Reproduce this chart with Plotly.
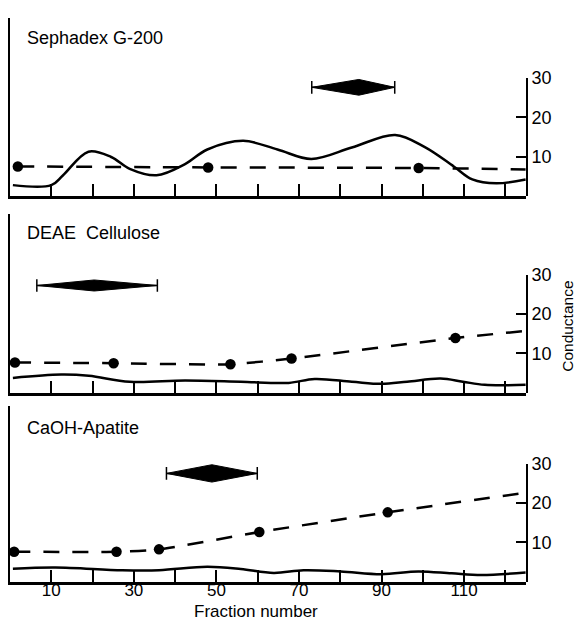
import plotly.graph_objects as go

# ---------------- data ----------------
panel_titles = ["Sephadex G-200", "DEAE  Cellulose", "CaOH-Apatite"]

# solid (protein / absorbance) curves, in conductance-scale units
abs_x1 = [0.7, 10, 12.8, 19, 24.5, 29, 35.5, 42.4, 47.8, 56.5, 64.8, 73, 82.8, 93.3, 100.5, 107.5, 112, 117.8, 124.9]
abs_y1 = [2.75, 2.75, 5.2, 11.25, 9.9, 6.9, 5.25, 8.1, 11.8, 14.0, 11.8, 9.4, 12.3, 15.5, 12.4, 7.5, 4.2, 3.2, 4.2]
abs_x2 = [0.7, 12.4, 19.1, 29, 42.4, 55.9, 67.5, 73.8, 82.8, 90, 96.2, 104.3, 109.7, 115, 124.9]
abs_y2 = [3.75, 4.6, 4.3, 2.8, 3.1, 2.8, 2.5, 3.5, 2.8, 2.25, 2.8, 3.6, 2.8, 2.0, 2.0]
abs_x3 = [0.7, 11, 27.2, 36.1, 47.8, 55.9, 63.9, 71.1, 80.1, 90, 98.9, 107, 114.2, 124.9]
abs_y3 = [3.3, 3.6, 2.9, 2.9, 3.75, 3.2, 2.2, 2.9, 2.6, 1.9, 2.6, 2.1, 1.7, 2.3]

# conductance measurements (dots) and value of the dashed line at the last fraction
cond_x1 = [1.9, 48, 99]
cond_y1 = [7.5, 7.25, 7.1]
cond_x2 = [1.2, 25.1, 53.4, 68.2, 107.9]
cond_y2 = [7.7, 7.5, 7.25, 8.7, 13.9]
cond_x3 = [1.0, 25.8, 36.1, 60.4, 91.5]
cond_y3 = [7.6, 7.6, 8.2, 12.6, 17.6]
cond_end_x = 124.9
cond_end_y = [6.75, 15.7, 22.6]

# activity ranges (diamond): left, peak, right fraction; level; half-height
act_left = [73.1, 6.5, 37.9]
act_peak = [84.5, 20.4, 48.9]
act_right = [93.2, 35.7, 59.9]
act_level = [27.6, 27.25, 27.5]
act_half = [2.0, 1.4, 2.2]

x_tickvals = [10, 20, 30, 40, 50, 60, 70, 80, 90, 100, 110, 120]
x_labelvals = [10, 30, 50, 70, 90, 110]
x_labeltext = ["10", "30", "50", "70", "90", "110"]
cond_tickvals = [10, 20, 30]

# ---------------- layout geometry ----------------
W, H = 579, 620
PX_PER_UNIT = 4.0
panel_top = [8, 207, 402]
panel_bottom = [189, 389, 581]
x_left_px, x_right_px = 10, 526
x_range = [0, 125]

FONT = "Liberation Sans, Arial, sans-serif"

abs_x = [abs_x1, abs_x2, abs_x3]
abs_y = [abs_y1, abs_y2, abs_y3]
cond_x = [cond_x1, cond_x2, cond_x3]
cond_y = [cond_y1, cond_y2, cond_y3]

fig = go.Figure()
layout = dict(
    width=W, height=H,
    margin=dict(l=0, r=0, t=0, b=0),
    paper_bgcolor="white", plot_bgcolor="rgba(0,0,0,0)",
    showlegend=False,
    font=dict(family=FONT, color="black"),
)

def py(p):
    return 1 - p / H

xdom = [x_left_px / W, x_right_px / W]

for i in range(3):
    n = i + 1
    xa = "x" if n == 1 else f"x{n}"
    ya = "y" if n == 1 else f"y{n}"
    xr = f"x{n + 3}"          # twin x-axis for the conductance axis (carries the labels)
    yr = f"y{n + 3}"
    xkey = "xaxis" if n == 1 else f"xaxis{n}"
    ykey = "yaxis" if n == 1 else f"yaxis{n}"
    xrkey = f"xaxis{n + 3}"
    yrkey = f"yaxis{n + 3}"
    top, bot = panel_top[i], panel_bottom[i]

    layout[xkey] = dict(
        domain=xdom, range=x_range, anchor=ya,
        showline=True, linewidth=2.5, linecolor="black",
        ticks="inside", ticklen=12, tickwidth=1.6, tickcolor="black",
        tickmode="array", tickvals=x_tickvals,
        showticklabels=False,
        showgrid=False, zeroline=False,
    )
    layout[ykey] = dict(
        domain=[py(bot), py(top)], range=[0, (bot - top) / PX_PER_UNIT], anchor=xa,
        showline=True, linewidth=2, linecolor="black",
        ticks="", showticklabels=False, showgrid=False, zeroline=False,
    )
    layout[xrkey] = dict(
        domain=xdom, range=x_range, anchor=yr, overlaying=xa,
        showline=False, ticks="", showgrid=False, zeroline=False,
        tickmode="array", tickvals=x_labelvals, ticktext=x_labeltext,
        showticklabels=(n == 3), ticklabelstandoff=-4,
        tickfont=dict(size=17, family=FONT, color="black"),
    )
    layout[yrkey] = dict(
        domain=[py(bot), py(bot - 30 * PX_PER_UNIT)], range=[0, 30], anchor=xr,
        side="right", showline=True, linewidth=2, linecolor="black",
        ticks="inside", ticklen=10, tickwidth=2, tickcolor="black",
        tickvals=cond_tickvals, tickfont=dict(size=18, family=FONT, color="black"),
        showgrid=False, zeroline=False,
    )

    # solid curve
    fig.add_trace(go.Scatter(
        x=abs_x[i], y=abs_y[i], xaxis=xa, yaxis=ya, mode="lines",
        line=dict(color="black", width=2.5, shape="spline", smoothing=1.0),
        hoverinfo="skip"))
    # activity diamond
    L, C, R, Y, h = act_left[i], act_peak[i], act_right[i], act_level[i], act_half[i]
    fig.add_trace(go.Scatter(
        x=[L, C, R, C, L], y=[Y, Y + h, Y, Y - h, Y], xaxis=xa, yaxis=ya,
        mode="lines", fill="toself", fillcolor="black",
        line=dict(color="black", width=1), hoverinfo="skip"))
    fig.add_trace(go.Scatter(
        x=[L, R], y=[Y, Y], xaxis=xa, yaxis=ya, mode="lines+markers",
        line=dict(color="black", width=1.5),
        marker=dict(symbol="line-ns", size=9, line=dict(color="black", width=1.5)),
        hoverinfo="skip"))
    # conductance dashed line + dots (on right axis)
    fig.add_trace(go.Scatter(
        x=cond_x[i] + [cond_end_x], y=cond_y[i] + [cond_end_y[i]], xaxis=xr, yaxis=yr,
        mode="lines", line=dict(color="black", width=2.5, dash="16px,13px", shape="spline", smoothing=0.6),
        hoverinfo="skip"))
    fig.add_trace(go.Scatter(
        x=cond_x[i], y=cond_y[i], xaxis=xr, yaxis=yr, mode="markers",
        marker=dict(color="black", size=10.5), cliponaxis=False, hoverinfo="skip"))

annotations = []
title_y_px = [28, 227, 425]
for i in range(3):
    annotations.append(dict(
        text=panel_titles[i], x=25 / W, y=py(title_y_px[i]), xref="paper", yref="paper",
        xanchor="left", yanchor="middle", showarrow=False,
        font=dict(size=18, family=FONT, color="black")))
annotations.append(dict(
    text="Conductance", x=568 / W, y=py(322), xref="paper", yref="paper",
    xanchor="center", yanchor="middle", textangle=-90, showarrow=False,
    font=dict(size=15.5, family=FONT, color="black")))
annotations.append(dict(
    text="Fraction number", x=256 / W, y=py(611), xref="paper", yref="paper",
    xanchor="center", yanchor="middle", showarrow=False,
    font=dict(size=17, family=FONT, color="black")))
layout["annotations"] = annotations

fig.update_layout(**layout)
fig.write_html("out.html")
